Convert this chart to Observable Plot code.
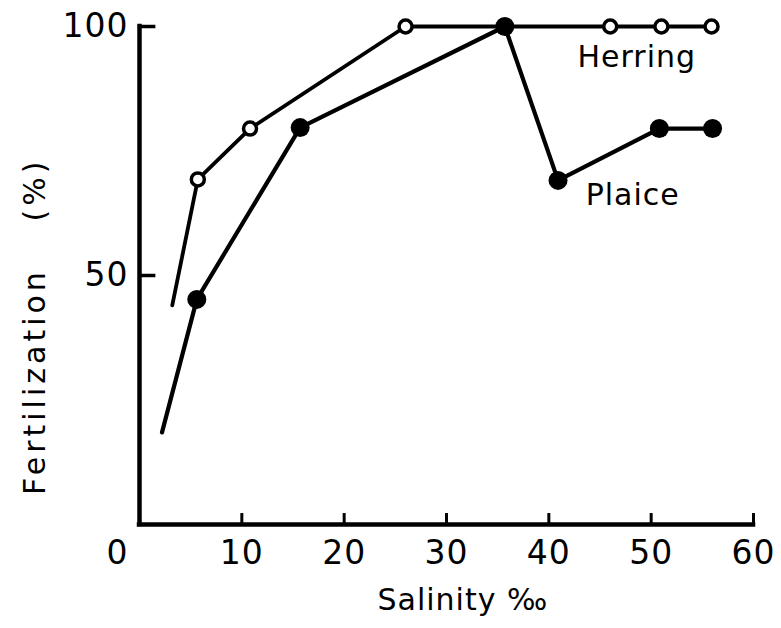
<!DOCTYPE html>
<html><head><meta charset="utf-8">
<script src="https://cdn.jsdelivr.net/npm/d3@7"></script>
<script src="https://cdn.jsdelivr.net/npm/@observablehq/plot@0.6"></script>
<style>body{margin:0;background:#fff} #chart{width:781px;height:628px}</style>
</head><body><div id="chart"></div>
<script>
// Herring (open circles); first point is the unmarked line start
const herringSalinity = [3.2, 5.7, 10.8, 26, 35.7, 46, 51, 55.9];
const herringFert     = [44, 69.3, 79.5, 100, 100, 100, 100, 100];
// Plaice (filled circles); first point is the unmarked line start
const plaiceSalinity  = [2.2, 5.6, 15.7, 35.7, 40.9, 50.8, 56];
const plaiceFert      = [18.5, 45.2, 79.7, 100, 69.1, 79.5, 79.5];
const seriesNames = ["Herring", "Plaice"];
const xTicks = [0, 10, 20, 30, 40, 50, 60];
const yTicks = [50, 100];
const xTitle = "Salinity ‰";
const yTitle = ["Fertilization", "(%)"];

const herring = herringSalinity.map((x, i) => ({x, y: herringFert[i], marked: i > 0}));
const plaice = plaiceSalinity.map((x, i) => ({x, y: plaiceFert[i], marked: i > 0}));

const font = "DejaVu Sans";
const chart = Plot.plot({
  width: 781,
  height: 628,
  marginLeft: 139,
  marginRight: 28,
  marginTop: 26,
  marginBottom: 104,
  x: {domain: [0, 60], axis: null},
  y: {domain: [0, 100], axis: null},
  style: {fontFamily: font, color: "black", background: "white", letterSpacing: "1px"},
  marks: [
    // axes
    Plot.ruleX([0], {y1: 0, y2: 100, strokeWidth: 4.5, strokeLinecap: "square"}),
    Plot.ruleY([0], {x1: 0, x2: 60, strokeWidth: 4.5, strokeLinecap: "square"}),
    Plot.ruleX(xTicks.filter(d => d > 0), {x: d => d, y1: 0, y2: 2.2, strokeWidth: 3}),
    Plot.ruleY(yTicks, {y: d => d, x1: 0, x2: 1.6, strokeWidth: 3.5}),
    Plot.text(xTicks.filter(d => d > 0), {x: d => d, y: 0, dy: 29, text: d => String(d), fontSize: 33}),
    Plot.text(xTicks.filter(d => d === 0), {x: d => d, y: 0, dx: -22, dy: 29, text: d => String(d), fontSize: 33}),
    Plot.text(yTicks, {x: 0, y: d => d, dx: -11, text: d => String(d), textAnchor: "end", fontSize: 33}),
    Plot.text([xTitle], {frameAnchor: "bottom-left", dx: 238, dy: 76, textAnchor: "start", lineAnchor: "middle", fontSize: 30}),
    Plot.text([yTitle[0]], {frameAnchor: "left", dx: -104, dy: 106, rotate: -90, textAnchor: "middle", lineAnchor: "middle", fontSize: 30}),
    Plot.text([yTitle[1]], {frameAnchor: "left", dx: -104, dy: -86, rotate: -90, textAnchor: "middle", lineAnchor: "middle", fontSize: 30}),
    // series
    Plot.line(herring, {x: "x", y: "y", strokeWidth: 3.8, strokeLinejoin: "round", strokeLinecap: "round"}),
    Plot.line(plaice, {x: "x", y: "y", strokeWidth: 4.2, strokeLinejoin: "round", strokeLinecap: "round"}),
    Plot.dot(herring.filter(d => d.marked), {x: "x", y: "y", r: 6.5, fill: "white", stroke: "black", strokeWidth: 3.5}),
    Plot.dot(plaice.filter(d => d.marked), {x: "x", y: "y", r: 9.5, fill: "black", stroke: "none"}),
    Plot.text([seriesNames[0]], {x: 42.8, y: 93.8, textAnchor: "start", fontSize: 30}),
    Plot.text([seriesNames[1]], {x: 43.6, y: 66.1, textAnchor: "start", fontSize: 30})
  ]
});
d3.select(chart).selectAll("text").filter(function() {
  const t = this.textContent; return t === yTitle[0] || t === yTitle[1];
}).style("letter-spacing", "4px");
document.getElementById("chart").appendChild(chart);
</script>
</body></html>
